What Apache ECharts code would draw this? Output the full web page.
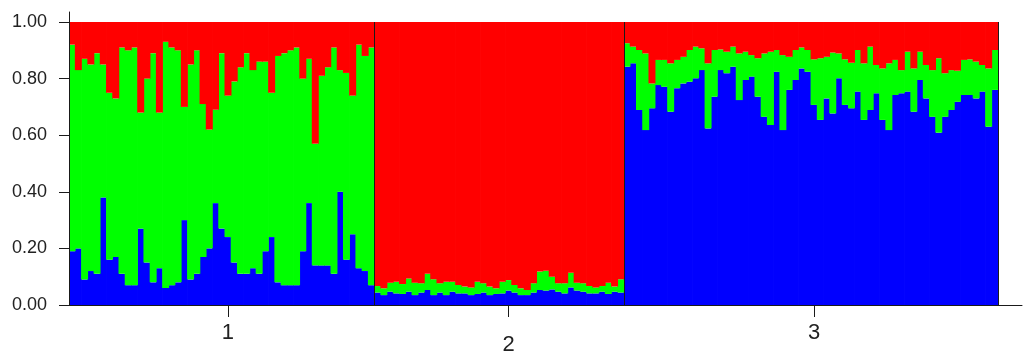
<!DOCTYPE html>
<html>
<head>
<meta charset="utf-8">
<title>STRUCTURE plot K=3</title>
<script src="https://cdn.jsdelivr.net/npm/echarts@6.0.0/dist/echarts.min.js"></script>
<style>
  html, body { margin: 0; padding: 0; background: #fff; }
  #chart { width: 1025px; height: 360px; }
</style>
</head>
<body>
<div id="chart"></div>
<script>
// membership coefficients per individual
const pop1Blue = [.19,.20,.09,.12,.11,.38,.16,.17,.11,.07, .07,.27,.15,.08,.13,.06,.07,.08,.30,.09,
  .11,.17,.20,.36,.27,.24,.15,.11,.11,.13, .11,.19,.24,.08,.07,.07,.07,.19,.36,.14, .14,.14,.11,.40,.16,.25,.13,.12,.07];
const pop1Green = [.73,.63,.78,.73,.78,.47,.59,.56,.80,.83, .84,.41,.65,.81,.55,.87,.84,.82,.40,.76,
  .79,.54,.42,.33,.62,.50,.64,.73,.78,.70, .75,.67,.51,.80,.82,.83,.84,.61,.51,.43, .67,.70,.80,.43,.66,.49,.79,.76,.84];
const pop1Red = [.08,.17,.13,.15,.11,.15,.25,.27,.09,.10, .09,.32,.20,.11,.32,.07,.09,.10,.30,.15,
  .10,.29,.38,.31,.11,.26,.21,.16,.11,.17, .14,.14,.25,.12,.11,.10,.09,.20,.13,.43, .19,.16,.09,.17,.18,.26,.08,.12,.09];

const pop2Blue = [.044,.035,.047,.041,.039,.047,.035,.044,.053,.035, .044,.035,.047,.041,.041,.035,.039,.044,.035,.039,
  .041,.051,.044,.035,.035,.044,.053,.051,.055,.047, .041,.062,.051,.047,.041,.041,.047,.039,.047,.044];
const pop2Green = [.023,.024,.032,.041,.035,.047,.044,.033,.057,.056, .033,.047,.035,.030,.024,.027,.043,.033,.030,.020,
  .041,.037,.027,.024,.018,.033,.065,.070,.045,.030, .036,.052,.028,.030,.026,.021,.020,.040,.018,.047];
const pop2Red = [.933,.941,.921,.918,.926,.906,.921,.923,.890,.909, .923,.918,.918,.929,.935,.938,.918,.923,.935,.941,
  .918,.912,.929,.941,.947,.923,.882,.879,.900,.923, .923,.886,.921,.923,.933,.938,.933,.921,.935,.909];

const pop3Blue = [.842,.854,.689,.618,.695,.777,.771,.683,.766,.783, .789,.801,.830,.624,.736,.830,.819,.842,.724,.795,
  .807,.736,.665,.636,.824,.618,.760,.795,.836,.824, .707,.654,.730,.677,.801,.707,.695,.754,.654,.689,
  .748,.654,.618,.742,.748,.754,.683,.795,.730,.665, .609,.665,.689,.718,.742,.742,.730,.754,.630,.760];
const pop3Green = [.083,.059,.212,.271,.088,.089,.095,.171,.100,.094, .112,.112,.077,.230,.165,.073,.076,.071,.165,.100,
  .076,.136,.224,.259,.077,.265,.117,.106,.074,.077, .161,.218,.147,.215,.088,.161,.161,.147,.200,.224,
  .100,.182,.236,.124,.082,.141,.153,.100,.118,.165, .263,.154,.141,.110,.124,.126,.130,.094,.206,.141];
const pop3Red = [.075,.087,.099,.111,.217,.134,.134,.146,.134,.123, .099,.087,.093,.146,.099,.097,.105,.087,.111,.105,
  .117,.128,.111,.105,.099,.117,.123,.099,.090,.099, .132,.128,.123,.108,.111,.132,.144,.099,.146,.087,
  .152,.164,.146,.134,.170,.105,.164,.105,.152,.170, .128,.181,.170,.172,.134,.132,.140,.152,.164,.099];

const popLabels = ['1', '2', '3'];
const popLabelAt = [25, 70, 119];   // individual under each population label
const popBreaks = [49, 89];         // first individual of populations 2 and 3

const blue = pop1Blue.concat(pop2Blue, pop3Blue);
const green = pop1Green.concat(pop2Green, pop3Green);
const red = pop1Red.concat(pop2Red, pop3Red);
const individuals = blue.map((v, i) => String(i + 1));

const font = "'Liberation Sans', Arial, sans-serif";
const ink = '#1a1a1a';

function bar(name, data, color) {
  return {
    name: name,
    type: 'bar',
    stack: 'q',
    barWidth: '112%',
    xAxisIndex: 0,
    yAxisIndex: 0,
    itemStyle: { color: color },
    data: data
  };
}

// bare axis lines of the outer frame (they run a little past the plot)
const frameAxis = {
  type: 'value',
  gridIndex: 1,
  min: 0,
  max: 1,
  axisLine: { show: true, lineStyle: { color: ink, width: 1 } },
  axisTick: { show: false },
  axisLabel: { show: false },
  splitLine: { show: false }
};

const chart = echarts.init(document.getElementById('chart'));
chart.setOption({
  animation: false,
  grid: [
    { left: 69, right: 27, top: 22, bottom: 55 },
    { left: 69, right: 3, top: 12, bottom: 55 }
  ],
  xAxis: [
    {
      type: 'category',
      gridIndex: 0,
      data: individuals,
      z: 5,
      axisLine: { show: true, lineStyle: { color: ink, width: 1 } },
      axisTick: {
        show: true,
        alignWithLabel: true,
        length: 12,
        interval: (i) => popLabelAt.includes(i),
        lineStyle: { color: ink, width: 1 }
      },
      axisLabel: {
        interval: (i) => popLabelAt.includes(i),
        formatter: (v, i) => {
          const k = popLabelAt.indexOf(i);
          return k === 1 ? '{lo|' + popLabels[k] + '}' : '{n|' + popLabels[k] + '}';
        },
        margin: 17,
        rich: {
          n: { fontSize: 22, fontFamily: font, color: '#222' },
          lo: { fontSize: 22, fontFamily: font, color: '#222', padding: [12, 0, 0, 0] }
        }
      },
      splitLine: {
        show: true,
        interval: (i) => popBreaks.includes(i),
        lineStyle: { color: ink, width: 1 }
      }
    },
    frameAxis
  ],
  yAxis: [
    {
      type: 'value',
      gridIndex: 0,
      min: 0,
      max: 1,
      interval: 0.2,
      z: 5,
      axisLine: { show: true, lineStyle: { color: ink, width: 1 } },
      axisTick: { show: true, length: 10, lineStyle: { color: ink, width: 1 } },
      axisLabel: {
        margin: 22,
        fontSize: 18,
        fontFamily: font,
        color: '#222',
        formatter: (v) => v.toFixed(2)
      },
      splitLine: { show: false }
    },
    frameAxis
  ],
  series: [
    bar('cluster 1', blue, '#0000ff'),
    bar('cluster 2', green, '#00ff00'),
    bar('cluster 3', red, '#ff0000')
  ]
});
</script>
</body>
</html>
